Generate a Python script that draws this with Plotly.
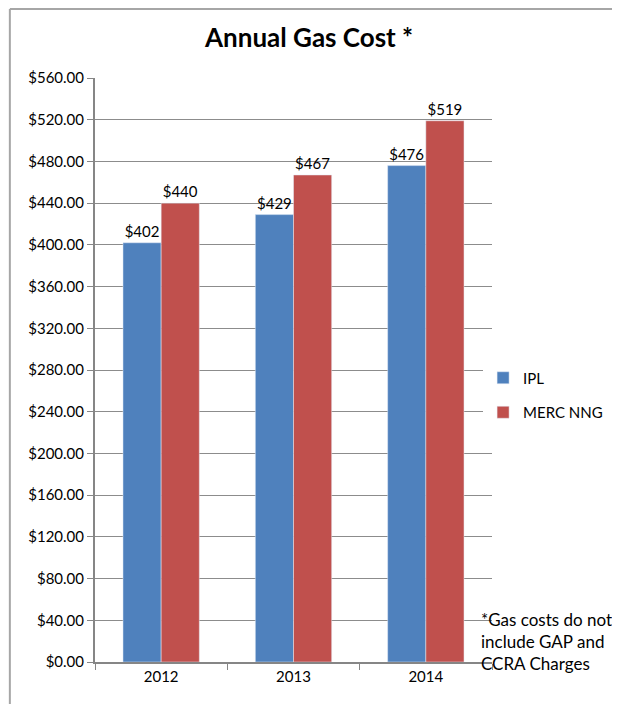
import plotly.graph_objects as go

years = ["2012", "2013", "2014"]
ipl = [402, 429, 476]
merc_nng = [440, 467, 519]
y_ticks = list(range(0, 561, 40))
y_labels = ["$%d.00" % v for v in y_ticks]

font = "Lato, 'Open Sans', sans-serif"

# the page body adds ~8px offset, so the figure is 8px smaller than the window
W, H = 612, 696
L, T, R, B = 87, 70, 124, 42
pw, ph = W - L - R, H - T - B


def px_x(x):
    return (x - L) / pw


def px_y(y):
    return (H - B - y) / ph


fig = go.Figure()
fig.add_trace(go.Bar(x=years, y=ipl, name="IPL", marker_color="#4F81BD",
                     legendgroup="ipl",
                     text=["$%d" % v for v in ipl], textposition="outside",
                     textfont=dict(size=15, color="black"), cliponaxis=False))
fig.add_trace(go.Bar(x=years, y=merc_nng, name="MERC NNG", marker_color="#C0504D",
                     legendgroup="merc",
                     text=["$%d" % v for v in merc_nng], textposition="outside",
                     textfont=dict(size=15, color="black"), cliponaxis=False))

fig.update_layout(
    width=W, height=H,
    margin=dict(l=L, r=R, t=T, b=B),
    paper_bgcolor="white", plot_bgcolor="white",
    font=dict(family=font, size=15, color="black"),
    title=dict(text="<b>Annual Gas Cost *</b>", x=0.492, xanchor="center",
               y=1 - 30 / H, yref="container", yanchor="middle",
               font=dict(size=26)),
    barmode="group", bargap=0.423, bargroupgap=0,
    showlegend=True,
    legend=dict(x=px_x(479), xanchor="left", y=px_y(387), yanchor="middle",
                font=dict(size=15), itemwidth=30, traceorder="grouped",
                tracegroupgap=12),
)

fig.update_yaxes(range=[0, 560], tickvals=y_ticks, ticktext=y_labels,
                 showgrid=True, gridcolor="#8c8c8c", gridwidth=1,
                 showline=True, linecolor="#868686", linewidth=2,
                 ticks="outside", ticklen=6, tickcolor="#868686",
                 tickfont=dict(size=15), zeroline=False)
fig.update_xaxes(showline=True, linecolor="#868686", linewidth=2,
                 ticks="outside", ticklen=6, tickcolor="#868686",
                 tickson="boundaries", tickfont=dict(size=15))

fig.add_annotation(text="*Gas costs do not<br>include GAP and<br>CCRA Charges",
                   xref="paper", yref="paper", x=px_x(475), y=px_y(599),
                   xanchor="left", yanchor="top", align="left", showarrow=False,
                   font=dict(size=17))

# outer chart frame (left and top edges visible)
fig.add_shape(type="line", xref="paper", yref="paper",
              x0=px_x(1), x1=px_x(W + 5), y0=px_y(1), y1=px_y(1),
              line=dict(color="#a6a6a6", width=2))
fig.add_shape(type="line", xref="paper", yref="paper",
              x0=px_x(1), x1=px_x(1), y0=px_y(1), y1=px_y(H + 5),
              line=dict(color="#a6a6a6", width=2))

fig.write_html("out.html", config={"displayModeBar": False})
